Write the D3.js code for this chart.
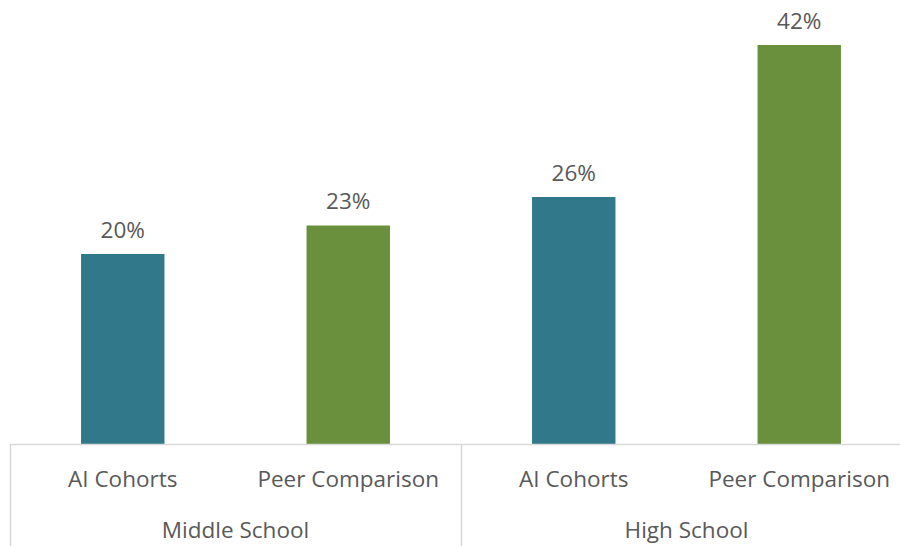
<!DOCTYPE html>
<html>
<head>
<meta charset="utf-8">
<script src="https://cdn.jsdelivr.net/npm/d3@7"></script>
<style>
  html, body { margin: 0; padding: 0; background: #fff; }
  svg text { font-family: "Open Sans", "Noto Sans", sans-serif; fill: #595959; }
</style>
</head>
<body>
<svg id="chart" width="900" height="546"></svg>
<script>
// Share of students, by school level and group
const categories = ["AI Cohorts", "Peer Comparison", "AI Cohorts", "Peer Comparison"];
const groups = ["Middle School", "High School"];
const values = [20, 23, 26, 42];
const barColors = ["#31798A", "#6A8F3D", "#31798A", "#6A8F3D"];

const svg = d3.select("#chart");
const left = 10, right = 912, baseY = 444;
const fontSize = 22.5;

const keys = categories.map((c, i) => i);
const x = d3.scaleBand().domain(keys).range([left, right]).paddingInner(0.63).paddingOuter(0.315);
const y = d3.scaleLinear().domain([0, 42]).range([baseY, 45]);

// bars
svg.selectAll("rect.bar").data(values).join("rect")
  .attr("class", "bar")
  .attr("x", (d, i) => x(i))
  .attr("y", d => y(d))
  .attr("width", x.bandwidth())
  .attr("height", d => baseY - y(d))
  .attr("fill", (d, i) => barColors[i]);

// value labels
svg.selectAll("text.val").data(values).join("text")
  .attr("class", "val")
  .attr("x", (d, i) => x(i) + x.bandwidth() / 2)
  .attr("y", d => y(d) - 16.5)
  .attr("text-anchor", "middle")
  .attr("font-size", fontSize)
  .text(d => d + "%");

// category axis with two-level labels
const axisColor = "#d9d9d9";
svg.append("line").attr("x1", left).attr("x2", 900).attr("y1", baseY + 0.5).attr("y2", baseY + 0.5)
  .attr("stroke", axisColor).attr("stroke-width", 1.5);

const step = x.step();
const groupWidth = step * 2;
[0, 1].forEach(g => {
  const gx = left + g * groupWidth;
  svg.append("line").attr("x1", gx + 0.5).attr("x2", gx + 0.5).attr("y1", baseY).attr("y2", 546)
    .attr("stroke", axisColor).attr("stroke-width", 1.5);
});

svg.selectAll("text.cat").data(categories).join("text")
  .attr("class", "cat")
  .attr("x", (d, i) => x(i) + x.bandwidth() / 2)
  .attr("y", 487)
  .attr("text-anchor", "middle")
  .attr("font-size", fontSize)
  .text(d => d);

svg.selectAll("text.grp").data(groups).join("text")
  .attr("class", "grp")
  .attr("x", (d, i) => left + i * groupWidth + groupWidth / 2)
  .attr("y", 538)
  .attr("text-anchor", "middle")
  .attr("font-size", fontSize)
  .text(d => d);
</script>
</body>
</html>
